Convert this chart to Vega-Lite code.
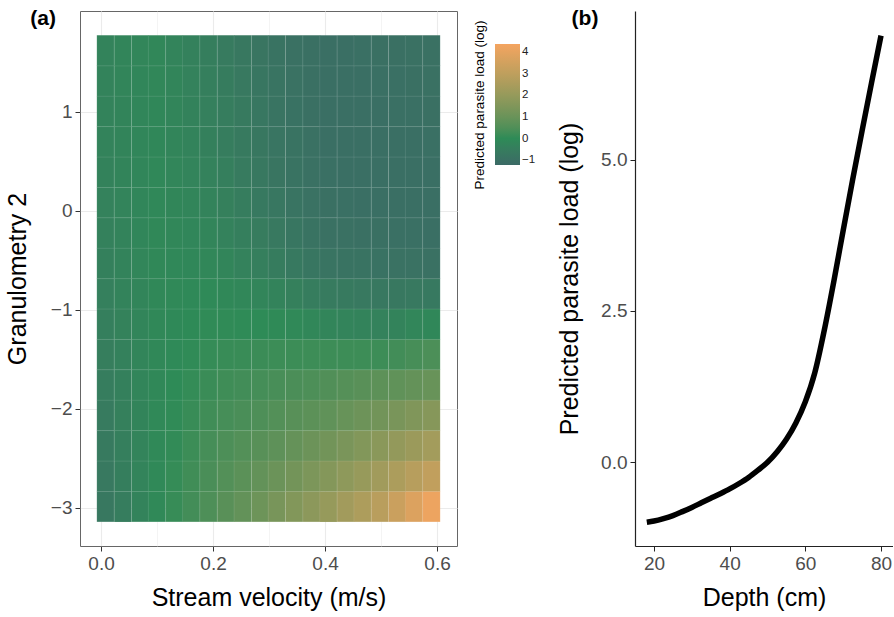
{
  "$schema": "https://vega.github.io/schema/vega-lite/v6.json",
  "background": "white",
  "padding": {"left": 4, "top": 7, "right": 0, "bottom": 0},
  "spacing": 99,
  "config": {
    "font": "Liberation Sans",
    "view": {"stroke": null},
    "axis": {"labelFontSize": 19, "labelColor": "#4d4d4d", "titleFontSize": 25, "titleFontWeight": "normal", "titleColor": "#000000", "tickColor": "#333333", "tickSize": 5, "labelPadding": 3, "titlePadding": 12},
    "title": {"fontSize": 21, "fontWeight": "bold", "anchor": "start", "frame": "bounds", "offset": -17.5, "color": "#000000"}
  },
  "hconcat": [
    {
      "title": {"text": "(a)", "dx": 25},
      "width": 377,
      "height": 535,
      "view": {"stroke": "#666666", "strokeWidth": 1},
      "data": {"values": [
{"v":0.008,"g":-2.987,"p":-0.72},{"v":0.039,"g":-2.987,"p":-0.51},{"v":0.070,"g":-2.987,"p":-0.29},{"v":0.100,"g":-2.987,"p":-0.08},{"v":0.131,"g":-2.987,"p":0.11},{"v":0.161,"g":-2.987,"p":0.29},{"v":0.192,"g":-2.987,"p":0.47},{"v":0.223,"g":-2.987,"p":0.68},{"v":0.253,"g":-2.987,"p":0.88},{"v":0.284,"g":-2.987,"p":1.09},{"v":0.314,"g":-2.987,"p":1.31},{"v":0.345,"g":-2.987,"p":1.54},{"v":0.376,"g":-2.987,"p":1.77},{"v":0.406,"g":-2.987,"p":2.01},{"v":0.437,"g":-2.987,"p":2.30},{"v":0.467,"g":-2.987,"p":2.59},{"v":0.498,"g":-2.987,"p":2.88},{"v":0.529,"g":-2.987,"p":3.32},{"v":0.559,"g":-2.987,"p":3.76},{"v":0.590,"g":-2.987,"p":4.21},
{"v":0.008,"g":-2.680,"p":-0.67},{"v":0.039,"g":-2.680,"p":-0.47},{"v":0.070,"g":-2.680,"p":-0.27},{"v":0.100,"g":-2.680,"p":-0.08},{"v":0.131,"g":-2.680,"p":0.08},{"v":0.161,"g":-2.680,"p":0.24},{"v":0.192,"g":-2.680,"p":0.41},{"v":0.223,"g":-2.680,"p":0.57},{"v":0.253,"g":-2.680,"p":0.72},{"v":0.284,"g":-2.680,"p":0.87},{"v":0.314,"g":-2.680,"p":1.03},{"v":0.345,"g":-2.680,"p":1.22},{"v":0.376,"g":-2.680,"p":1.41},{"v":0.406,"g":-2.680,"p":1.60},{"v":0.437,"g":-2.680,"p":1.83},{"v":0.467,"g":-2.680,"p":2.05},{"v":0.498,"g":-2.680,"p":2.29},{"v":0.529,"g":-2.680,"p":2.56},{"v":0.559,"g":-2.680,"p":2.82},{"v":0.590,"g":-2.680,"p":3.09},
{"v":0.008,"g":-2.373,"p":-0.62},{"v":0.039,"g":-2.373,"p":-0.44},{"v":0.070,"g":-2.373,"p":-0.26},{"v":0.100,"g":-2.373,"p":-0.09},{"v":0.131,"g":-2.373,"p":0.05},{"v":0.161,"g":-2.373,"p":0.19},{"v":0.192,"g":-2.373,"p":0.33},{"v":0.223,"g":-2.373,"p":0.45},{"v":0.253,"g":-2.373,"p":0.56},{"v":0.284,"g":-2.373,"p":0.66},{"v":0.314,"g":-2.373,"p":0.78},{"v":0.345,"g":-2.373,"p":0.91},{"v":0.376,"g":-2.373,"p":1.05},{"v":0.406,"g":-2.373,"p":1.19},{"v":0.437,"g":-2.373,"p":1.37},{"v":0.467,"g":-2.373,"p":1.55},{"v":0.498,"g":-2.373,"p":1.74},{"v":0.529,"g":-2.373,"p":1.94},{"v":0.559,"g":-2.373,"p":2.13},{"v":0.590,"g":-2.373,"p":2.34},
{"v":0.008,"g":-2.066,"p":-0.58},{"v":0.039,"g":-2.066,"p":-0.41},{"v":0.070,"g":-2.066,"p":-0.25},{"v":0.100,"g":-2.066,"p":-0.09},{"v":0.131,"g":-2.066,"p":0.02},{"v":0.161,"g":-2.066,"p":0.13},{"v":0.192,"g":-2.066,"p":0.24},{"v":0.223,"g":-2.066,"p":0.33},{"v":0.253,"g":-2.066,"p":0.40},{"v":0.284,"g":-2.066,"p":0.48},{"v":0.314,"g":-2.066,"p":0.56},{"v":0.345,"g":-2.066,"p":0.65},{"v":0.376,"g":-2.066,"p":0.73},{"v":0.406,"g":-2.066,"p":0.82},{"v":0.437,"g":-2.066,"p":0.95},{"v":0.467,"g":-2.066,"p":1.07},{"v":0.498,"g":-2.066,"p":1.19},{"v":0.529,"g":-2.066,"p":1.35},{"v":0.559,"g":-2.066,"p":1.50},{"v":0.590,"g":-2.066,"p":1.65},
{"v":0.008,"g":-1.759,"p":-0.53},{"v":0.039,"g":-1.759,"p":-0.39},{"v":0.070,"g":-1.759,"p":-0.24},{"v":0.100,"g":-1.759,"p":-0.10},{"v":0.131,"g":-1.759,"p":-0.01},{"v":0.161,"g":-1.759,"p":0.07},{"v":0.192,"g":-1.759,"p":0.16},{"v":0.223,"g":-1.759,"p":0.22},{"v":0.253,"g":-1.759,"p":0.27},{"v":0.284,"g":-1.759,"p":0.32},{"v":0.314,"g":-1.759,"p":0.37},{"v":0.345,"g":-1.759,"p":0.42},{"v":0.376,"g":-1.759,"p":0.46},{"v":0.406,"g":-1.759,"p":0.52},{"v":0.437,"g":-1.759,"p":0.59},{"v":0.467,"g":-1.759,"p":0.67},{"v":0.498,"g":-1.759,"p":0.75},{"v":0.529,"g":-1.759,"p":0.82},{"v":0.559,"g":-1.759,"p":0.90},{"v":0.590,"g":-1.759,"p":0.98},
{"v":0.008,"g":-1.452,"p":-0.49},{"v":0.039,"g":-1.452,"p":-0.36},{"v":0.070,"g":-1.452,"p":-0.23},{"v":0.100,"g":-1.452,"p":-0.10},{"v":0.131,"g":-1.452,"p":-0.04},{"v":0.161,"g":-1.452,"p":0.02},{"v":0.192,"g":-1.452,"p":0.08},{"v":0.223,"g":-1.452,"p":0.12},{"v":0.253,"g":-1.452,"p":0.14},{"v":0.284,"g":-1.452,"p":0.17},{"v":0.314,"g":-1.452,"p":0.18},{"v":0.345,"g":-1.452,"p":0.19},{"v":0.376,"g":-1.452,"p":0.20},{"v":0.406,"g":-1.452,"p":0.20},{"v":0.437,"g":-1.452,"p":0.20},{"v":0.467,"g":-1.452,"p":0.20},{"v":0.498,"g":-1.452,"p":0.20},{"v":0.529,"g":-1.452,"p":0.27},{"v":0.559,"g":-1.452,"p":0.35},{"v":0.590,"g":-1.452,"p":0.43},
{"v":0.008,"g":-1.145,"p":-0.45},{"v":0.039,"g":-1.145,"p":-0.33},{"v":0.070,"g":-1.145,"p":-0.21},{"v":0.100,"g":-1.145,"p":-0.10},{"v":0.131,"g":-1.145,"p":-0.06},{"v":0.161,"g":-1.145,"p":-0.02},{"v":0.192,"g":-1.145,"p":0.02},{"v":0.223,"g":-1.145,"p":0.02},{"v":0.253,"g":-1.145,"p":0.01},{"v":0.284,"g":-1.145,"p":0.00},{"v":0.314,"g":-1.145,"p":-0.03},{"v":0.345,"g":-1.145,"p":-0.09},{"v":0.376,"g":-1.145,"p":-0.15},{"v":0.406,"g":-1.145,"p":-0.21},{"v":0.437,"g":-1.145,"p":-0.26},{"v":0.467,"g":-1.145,"p":-0.30},{"v":0.498,"g":-1.145,"p":-0.35},{"v":0.529,"g":-1.145,"p":-0.28},{"v":0.559,"g":-1.145,"p":-0.20},{"v":0.590,"g":-1.145,"p":-0.13},
{"v":0.008,"g":-0.838,"p":-0.42},{"v":0.039,"g":-0.838,"p":-0.31},{"v":0.070,"g":-0.838,"p":-0.21},{"v":0.100,"g":-0.838,"p":-0.10},{"v":0.131,"g":-0.838,"p":-0.08},{"v":0.161,"g":-0.838,"p":-0.07},{"v":0.192,"g":-0.838,"p":-0.05},{"v":0.223,"g":-0.838,"p":-0.10},{"v":0.253,"g":-0.838,"p":-0.16},{"v":0.284,"g":-0.838,"p":-0.22},{"v":0.314,"g":-0.838,"p":-0.30},{"v":0.345,"g":-0.838,"p":-0.41},{"v":0.376,"g":-0.838,"p":-0.52},{"v":0.406,"g":-0.838,"p":-0.61},{"v":0.437,"g":-0.838,"p":-0.64},{"v":0.467,"g":-0.838,"p":-0.67},{"v":0.498,"g":-0.838,"p":-0.70},{"v":0.529,"g":-0.838,"p":-0.69},{"v":0.559,"g":-0.838,"p":-0.67},{"v":0.590,"g":-0.838,"p":-0.66},
{"v":0.008,"g":-0.532,"p":-0.39},{"v":0.039,"g":-0.532,"p":-0.30},{"v":0.070,"g":-0.532,"p":-0.20},{"v":0.100,"g":-0.532,"p":-0.10},{"v":0.131,"g":-0.532,"p":-0.12},{"v":0.161,"g":-0.532,"p":-0.13},{"v":0.192,"g":-0.532,"p":-0.15},{"v":0.223,"g":-0.532,"p":-0.23},{"v":0.253,"g":-0.532,"p":-0.34},{"v":0.284,"g":-0.532,"p":-0.44},{"v":0.314,"g":-0.532,"p":-0.55},{"v":0.345,"g":-0.532,"p":-0.66},{"v":0.376,"g":-0.532,"p":-0.77},{"v":0.406,"g":-0.532,"p":-0.85},{"v":0.437,"g":-0.532,"p":-0.88},{"v":0.467,"g":-0.532,"p":-0.90},{"v":0.498,"g":-0.532,"p":-0.92},{"v":0.529,"g":-0.532,"p":-0.93},{"v":0.559,"g":-0.532,"p":-0.94},{"v":0.590,"g":-0.532,"p":-0.95},
{"v":0.008,"g":-0.225,"p":-0.37},{"v":0.039,"g":-0.225,"p":-0.28},{"v":0.070,"g":-0.225,"p":-0.19},{"v":0.100,"g":-0.225,"p":-0.10},{"v":0.131,"g":-0.225,"p":-0.15},{"v":0.161,"g":-0.225,"p":-0.19},{"v":0.192,"g":-0.225,"p":-0.24},{"v":0.223,"g":-0.225,"p":-0.34},{"v":0.253,"g":-0.225,"p":-0.45},{"v":0.284,"g":-0.225,"p":-0.57},{"v":0.314,"g":-0.225,"p":-0.68},{"v":0.345,"g":-0.225,"p":-0.78},{"v":0.376,"g":-0.225,"p":-0.89},{"v":0.406,"g":-0.225,"p":-0.97},{"v":0.437,"g":-0.225,"p":-0.98},{"v":0.467,"g":-0.225,"p":-0.99},{"v":0.498,"g":-0.225,"p":-1.00},{"v":0.529,"g":-0.225,"p":-1.01},{"v":0.559,"g":-0.225,"p":-1.02},{"v":0.590,"g":-0.225,"p":-1.03},
{"v":0.008,"g":0.082,"p":-0.34},{"v":0.039,"g":0.082,"p":-0.26},{"v":0.070,"g":0.082,"p":-0.19},{"v":0.100,"g":0.082,"p":-0.11},{"v":0.131,"g":0.082,"p":-0.18},{"v":0.161,"g":0.082,"p":-0.24},{"v":0.192,"g":0.082,"p":-0.30},{"v":0.223,"g":0.082,"p":-0.41},{"v":0.253,"g":0.082,"p":-0.53},{"v":0.284,"g":0.082,"p":-0.66},{"v":0.314,"g":0.082,"p":-0.76},{"v":0.345,"g":0.082,"p":-0.85},{"v":0.376,"g":0.082,"p":-0.93},{"v":0.406,"g":0.082,"p":-1.00},{"v":0.437,"g":0.082,"p":-1.02},{"v":0.467,"g":0.082,"p":-1.03},{"v":0.498,"g":0.082,"p":-1.05},{"v":0.529,"g":0.082,"p":-1.05},{"v":0.559,"g":0.082,"p":-1.05},{"v":0.590,"g":0.082,"p":-1.05},
{"v":0.008,"g":0.389,"p":-0.32},{"v":0.039,"g":0.389,"p":-0.25},{"v":0.070,"g":0.389,"p":-0.19},{"v":0.100,"g":0.389,"p":-0.12},{"v":0.131,"g":0.389,"p":-0.20},{"v":0.161,"g":0.389,"p":-0.27},{"v":0.192,"g":0.389,"p":-0.35},{"v":0.223,"g":0.389,"p":-0.46},{"v":0.253,"g":0.389,"p":-0.58},{"v":0.284,"g":0.389,"p":-0.70},{"v":0.314,"g":0.389,"p":-0.80},{"v":0.345,"g":0.389,"p":-0.88},{"v":0.376,"g":0.389,"p":-0.96},{"v":0.406,"g":0.389,"p":-1.02},{"v":0.437,"g":0.389,"p":-1.03},{"v":0.467,"g":0.389,"p":-1.04},{"v":0.498,"g":0.389,"p":-1.05},{"v":0.529,"g":0.389,"p":-1.05},{"v":0.559,"g":0.389,"p":-1.05},{"v":0.590,"g":0.389,"p":-1.05},
{"v":0.008,"g":0.696,"p":-0.31},{"v":0.039,"g":0.696,"p":-0.25},{"v":0.070,"g":0.696,"p":-0.19},{"v":0.100,"g":0.696,"p":-0.13},{"v":0.131,"g":0.696,"p":-0.22},{"v":0.161,"g":0.696,"p":-0.30},{"v":0.192,"g":0.696,"p":-0.39},{"v":0.223,"g":0.696,"p":-0.50},{"v":0.253,"g":0.696,"p":-0.62},{"v":0.284,"g":0.696,"p":-0.74},{"v":0.314,"g":0.696,"p":-0.83},{"v":0.345,"g":0.696,"p":-0.90},{"v":0.376,"g":0.696,"p":-0.97},{"v":0.406,"g":0.696,"p":-1.03},{"v":0.437,"g":0.696,"p":-1.04},{"v":0.467,"g":0.696,"p":-1.04},{"v":0.498,"g":0.696,"p":-1.05},{"v":0.529,"g":0.696,"p":-1.04},{"v":0.559,"g":0.696,"p":-1.03},{"v":0.590,"g":0.696,"p":-1.02},
{"v":0.008,"g":1.003,"p":-0.30},{"v":0.039,"g":1.003,"p":-0.25},{"v":0.070,"g":1.003,"p":-0.19},{"v":0.100,"g":1.003,"p":-0.13},{"v":0.131,"g":1.003,"p":-0.23},{"v":0.161,"g":1.003,"p":-0.32},{"v":0.192,"g":1.003,"p":-0.42},{"v":0.223,"g":1.003,"p":-0.53},{"v":0.253,"g":1.003,"p":-0.64},{"v":0.284,"g":1.003,"p":-0.76},{"v":0.314,"g":1.003,"p":-0.85},{"v":0.345,"g":1.003,"p":-0.92},{"v":0.376,"g":1.003,"p":-0.99},{"v":0.406,"g":1.003,"p":-1.04},{"v":0.437,"g":1.003,"p":-1.04},{"v":0.467,"g":1.003,"p":-1.03},{"v":0.498,"g":1.003,"p":-1.03},{"v":0.529,"g":1.003,"p":-1.02},{"v":0.559,"g":1.003,"p":-1.01},{"v":0.590,"g":1.003,"p":-1.00},
{"v":0.008,"g":1.310,"p":-0.30},{"v":0.039,"g":1.310,"p":-0.24},{"v":0.070,"g":1.310,"p":-0.19},{"v":0.100,"g":1.310,"p":-0.14},{"v":0.131,"g":1.310,"p":-0.24},{"v":0.161,"g":1.310,"p":-0.34},{"v":0.192,"g":1.310,"p":-0.44},{"v":0.223,"g":1.310,"p":-0.56},{"v":0.253,"g":1.310,"p":-0.67},{"v":0.284,"g":1.310,"p":-0.78},{"v":0.314,"g":1.310,"p":-0.87},{"v":0.345,"g":1.310,"p":-0.93},{"v":0.376,"g":1.310,"p":-1.00},{"v":0.406,"g":1.310,"p":-1.05},{"v":0.437,"g":1.310,"p":-1.04},{"v":0.467,"g":1.310,"p":-1.03},{"v":0.498,"g":1.310,"p":-1.02},{"v":0.529,"g":1.310,"p":-1.01},{"v":0.559,"g":1.310,"p":-0.99},{"v":0.590,"g":1.310,"p":-0.98},
{"v":0.008,"g":1.616,"p":-0.29},{"v":0.039,"g":1.616,"p":-0.24},{"v":0.070,"g":1.616,"p":-0.20},{"v":0.100,"g":1.616,"p":-0.15},{"v":0.131,"g":1.616,"p":-0.26},{"v":0.161,"g":1.616,"p":-0.36},{"v":0.192,"g":1.616,"p":-0.47},{"v":0.223,"g":1.616,"p":-0.58},{"v":0.253,"g":1.616,"p":-0.69},{"v":0.284,"g":1.616,"p":-0.80},{"v":0.314,"g":1.616,"p":-0.89},{"v":0.345,"g":1.616,"p":-0.95},{"v":0.376,"g":1.616,"p":-1.00},{"v":0.406,"g":1.616,"p":-1.05},{"v":0.437,"g":1.616,"p":-1.03},{"v":0.467,"g":1.616,"p":-1.02},{"v":0.498,"g":1.616,"p":-1.00},{"v":0.529,"g":1.616,"p":-0.99},{"v":0.559,"g":1.616,"p":-0.97},{"v":0.590,"g":1.616,"p":-0.96}
      ]},
      "mark": {"type": "rect", "width": 17.4, "height": 30.7, "stroke": "#ffffff", "strokeWidth": 0.5, "strokeOpacity": 0.18},
      "encoding": {
        "x": {"field": "v", "type": "quantitative", "title": "Stream velocity (m/s)",
          "scale": {"domain": [-0.0376, 0.6356], "nice": false, "zero": false},
          "axis": {"values": [0, 0.1, 0.2, 0.3, 0.4, 0.5, 0.6], "format": ".1f", "domain": false, "grid": true, "gridColor": "#ebebeb",
            "labelExpr": "round(datum.value * 10) % 2 == 0 ? datum.label : ''",
            "gridWidth": {"condition": {"test": "round(datum.value * 10) % 2 == 0", "value": 1.1}, "value": 0.55},
            "tickOpacity": {"condition": {"test": "round(datum.value * 10) % 2 == 0", "value": 1}, "value": 0}}},
        "y": {"field": "g", "type": "quantitative", "title": "Granulometry 2",
          "scale": {"domain": [-3.3855, 2.0155], "nice": false, "zero": false},
          "axis": {"values": [-3, -2.5, -2, -1.5, -1, -0.5, 0, 0.5, 1, 1.5], "format": "d", "domain": false, "grid": true, "gridColor": "#ebebeb", "titlePadding": 20,
            "labelExpr": "datum.value == round(datum.value) ? datum.label : ''",
            "gridWidth": {"condition": {"test": "datum.value == round(datum.value)", "value": 1.1}, "value": 0.55},
            "tickOpacity": {"condition": {"test": "datum.value == round(datum.value)", "value": 1}, "value": 0}}},
        "color": {"field": "p", "type": "quantitative",
          "scale": {"domain": [-1.23, 0, 4.39], "range": ["#3b6a66", "#2e8b57", "#f4a460"], "interpolate": "lab"},
          "legend": {"title": "Predicted parasite load (log)", "orient": "none", "legendX": 393, "legendY": 33,
            "titleOrient": "left", "titleAngle": 270, "titleAnchor": "middle", "titleFontSize": 13.5, "titleFontWeight": "normal", "titleColor": "#000000", "titlePadding": 8,
            "gradientLength": 121, "gradientThickness": 25, "gradientStrokeWidth": 0,
            "values": [-1, 0, 1, 2, 3, 4], "labelFontSize": 11.5, "labelColor": "#222222", "labelOverlap": false}}
      }
    },
    {
      "title": {"text": "(b)", "dx": 14},
      "width": 258,
      "height": 535,
      "data": {"values": [
        {"depth": 18.1, "load": -0.99}, {"depth": 20, "load": -0.97}, {"depth": 22.5, "load": -0.93}, {"depth": 25, "load": -0.88},
        {"depth": 27.5, "load": -0.815}, {"depth": 30, "load": -0.745}, {"depth": 32.5, "load": -0.67}, {"depth": 35, "load": -0.595},
        {"depth": 37.5, "load": -0.52}, {"depth": 40, "load": -0.44}, {"depth": 42.5, "load": -0.35}, {"depth": 45, "load": -0.25},
        {"depth": 47.5, "load": -0.13}, {"depth": 50, "load": 0.0}, {"depth": 52.5, "load": 0.17}, {"depth": 55, "load": 0.38},
        {"depth": 57.5, "load": 0.65}, {"depth": 60, "load": 1.0}, {"depth": 62.5, "load": 1.48}, {"depth": 65, "load": 2.18},
        {"depth": 67.5, "load": 2.98}, {"depth": 70, "load": 3.83}, {"depth": 72.5, "load": 4.67}, {"depth": 75, "load": 5.48},
        {"depth": 77.5, "load": 6.27}, {"depth": 80, "load": 7.05}
      ]},
      "mark": {"type": "line", "color": "#000000", "strokeWidth": 5.5, "interpolate": "monotone"},
      "encoding": {
        "x": {"field": "depth", "type": "quantitative", "title": "Depth (cm)",
          "scale": {"domain": [14.98, 83.17], "nice": false, "zero": false},
          "axis": {"values": [20, 40, 60, 80], "format": "d", "grid": false, "domainColor": "#222222", "domainWidth": 1.2, "tickColor": "#222222"}},
        "y": {"field": "load", "type": "quantitative", "title": "Predicted parasite load (log)",
          "scale": {"domain": [-1.383, 7.457], "nice": false, "zero": false},
          "axis": {"values": [0, 2.5, 5], "format": ".1f", "grid": false, "domainColor": "#222222", "domainWidth": 1.2, "tickColor": "#222222", "titlePadding": 18}}
      }
    }
  ]
}
